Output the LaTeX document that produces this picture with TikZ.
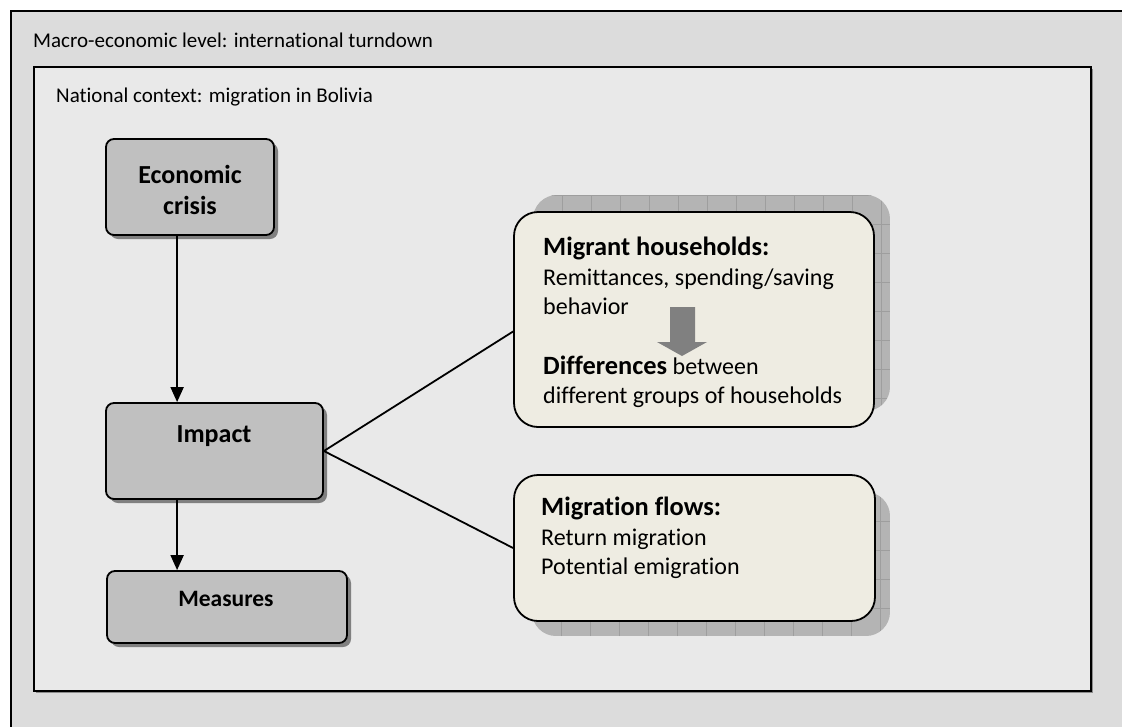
\documentclass[tikz,border=0pt]{standalone}
\usepackage{fontspec}
\setmainfont{Carlito}[Ligatures=NoCommon]
\usetikzlibrary{arrows.meta,shadows}
\definecolor{outerbg}{RGB}{220,220,220}
\definecolor{innerbg}{RGB}{233,233,233}
\definecolor{boxgray}{RGB}{192,192,192}
\definecolor{boxshadow}{RGB}{128,128,128}
\definecolor{framegray}{RGB}{140,140,140}
\definecolor{beige}{RGB}{238,236,226}
\definecolor{gridshadow}{RGB}{180,180,180}
\definecolor{gridline}{RGB}{158,158,158}
\definecolor{blockarrow}{RGB}{128,128,128}
\newcommand\hbold[1]{{\fontsize{26.4}{29.6}\selectfont\bfseries #1}}
\begin{document}
\begin{tikzpicture}[x=1pt,y=-1pt,
  frame/.style={draw=black,line width=1.8pt},
  graybox/.style={draw=black,line width=1.8pt,fill=boxgray,rounded corners=8pt,inner sep=0pt,
    drop shadow={shadow xshift=4pt,shadow yshift=-4pt,fill=boxshadow,opacity=1}},
  beigebox/.style={draw=black,line width=1.8pt,fill=beige,rounded corners=24pt,inner sep=0pt},
  boldlabel/.style={font=\fontsize{26}{31}\selectfont\bfseries,inner sep=0pt},
  titletext/.style={font=\fontsize{21}{25}\selectfont,inner sep=0pt,anchor=base west},
  bodytext/.style={font=\fontsize{24}{29.6}\selectfont,inner sep=0pt,align=left,anchor=north west},
  conn/.style={line width=1.8pt},
  arr/.style={line width=1.8pt,-{Triangle[length=15pt,width=13pt]}},
  gridshade/.style={fill=gridshadow},
]
\useasboundingbox (0,0) rectangle (1122,726);
\fill[white] (0,0) rectangle (1122,726);
% outer frame
\fill[framegray] (13,13) rectangle (1140,740);
\draw[frame,fill=outerbg] (11,11) rectangle (1140,740);
\node[titletext] (macro) at (33,47) {Macro-economic level: international turndown};
% inner frame
\fill[framegray] (36,69) rectangle (1093,693);
\draw[frame,fill=innerbg] (34,67) rectangle (1091,691);
\node[titletext] (national) at (56,102) {National context: migration in Bolivia};

% shadows of the right boxes
\begin{scope}
  \clip[rounded corners=24pt] (533,195) rectangle (890,411);
  \fill[gridshade] (533,195) rectangle (890,411);
  \draw[gridline,line width=0.8pt,shift={(533,195)}] (0,0) grid[step=29pt] (357,216);
\end{scope}
\begin{scope}
  \clip[rounded corners=24pt] (532,492) rectangle (890,636);
  \fill[gridshade] (532,492) rectangle (890,636);
  \draw[gridline,line width=0.8pt,shift={(532,492)}] (0,0) grid[step=29pt] (358,144);
\end{scope}

% left boxes
\node[graybox,minimum width=168pt,minimum height=96pt] (econ) at (190,187) {};
\node[graybox,minimum width=217pt,minimum height=96pt] (imp) at (214.5,451) {};
\node[graybox,minimum width=240pt,minimum height=72pt] (meas) at (227,607) {};
\node[boldlabel,align=center] (econtext) at (190,190) {Economic\\crisis};
\node[boldlabel,anchor=base] (imptext) at (214,442) {Impact};
\node[font=\fontsize{23.5}{28}\selectfont\bfseries,inner sep=0pt,anchor=base] (meastext) at (226,606) {Measures};

% right boxes
\node[beigebox,minimum width=360pt,minimum height=215pt] (mig) at (694,319.5) {};
\node[beigebox,minimum width=361pt,minimum height=146pt] (flow) at (694.5,548) {};

% block arrow inside migrant box
\fill[blockarrow] (670,307) -- (695,307) -- (695,342) -- (707,342) -- (682,356) -- (657,342) -- (670,342) -- cycle;

\node[bodytext] (migtext) at (543,237) {\hbold{Migrant households:}\\Remittances, spending/saving\\behavior\\[29.6pt]\hbold{Differences} between\\different groups of households};
\node[bodytext] (flowtext) at (541,497) {\hbold{Migration flows:}\\Return migration\\Potential emigration};

% connectors
\draw[arr] ([xshift=72pt]econ.south west) -- ([xshift=72pt]imp.north west);
\draw[arr] ([xshift=72pt]imp.south west) -- ([xshift=71pt]meas.north west);
\draw[conn] (imp.east) -- ([yshift=-12pt]mig.west);
\draw[conn] (imp.east) -- (flow.west);
\end{tikzpicture}
\end{document}
